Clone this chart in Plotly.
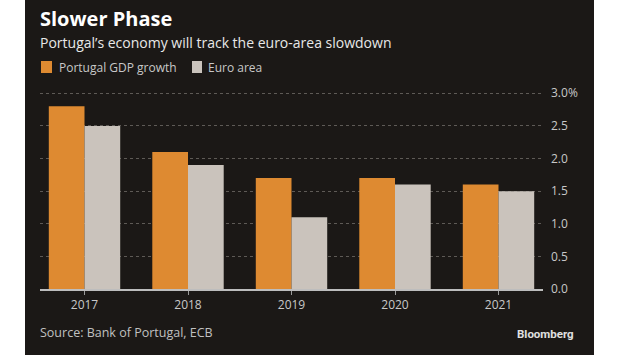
import plotly.graph_objects as go

years = ["2017", "2018", "2019", "2020", "2021"]
portugal = [2.8, 2.1, 1.7, 1.7, 1.6]
euro = [2.5, 1.9, 1.1, 1.6, 1.5]
series_names = ["Portugal GDP growth", "Euro area"]
ytick_vals = [0, 0.5, 1.0, 1.5, 2.0, 2.5, 3.0]
ytick_text = ["0.0", "0.5", "1.0", "1.5", "2.0", "2.5", "3.0%"]

W, H = 620, 355
L, R, T, B = 40, 77, 90, 66
pw = W - L - R
ph = H - T - B

def px_x(px):
    return (px - L) / pw

def px_y(py):
    return (H - B - py) / ph

BG = "#1b1816"
ORANGE = "#de8a31"
GREY = "#cac3bc"
FONT = "Open Sans"

fig = go.Figure()
fig.add_trace(go.Bar(x=years, y=portugal, name=series_names[0],
                     marker=dict(color=ORANGE, line=dict(width=0))))
fig.add_trace(go.Bar(x=years, y=euro, name=series_names[1],
                     marker=dict(color=GREY, line=dict(width=0))))

shapes = [dict(type="rect", xref="paper", yref="paper",
               x0=px_x(25), x1=px_x(594), y0=-1, y1=2,
               fillcolor=BG, line=dict(width=0), layer="below")]
# legend swatches
for (x0, x1), col in [((41, 52), ORANGE), ((192, 202), GREY)]:
    shapes.append(dict(type="rect", xref="paper", yref="paper",
                       x0=px_x(x0), x1=px_x(x1), y0=px_y(73), y1=px_y(61),
                       fillcolor=col, line=dict(width=0), layer="above"))

annotations = [
    dict(text="<b>Slower Phase</b>", xref="paper", yref="paper", x=px_x(38), y=px_y(18),
         xanchor="left", yanchor="middle", showarrow=False,
         font=dict(size=20, color="white", family=FONT)),
    dict(text="Portugal’s economy will track the euro-area slowdown", xref="paper", yref="paper",
         x=px_x(38), y=px_y(43), xanchor="left", yanchor="middle", showarrow=False,
         font=dict(size=14, color="#e8e8e8", family=FONT)),
    dict(text=series_names[0], xref="paper", yref="paper", x=px_x(57), y=px_y(67),
         xanchor="left", yanchor="middle", showarrow=False,
         font=dict(size=12, color="#c8c8c8", family=FONT)),
    dict(text=series_names[1], xref="paper", yref="paper", x=px_x(206), y=px_y(67),
         xanchor="left", yanchor="middle", showarrow=False,
         font=dict(size=12, color="#c8c8c8", family=FONT)),
    dict(text="Source: Bank of Portugal, ECB", xref="paper", yref="paper",
         x=px_x(38), y=px_y(332), xanchor="left", yanchor="middle", showarrow=False,
         font=dict(size=12.5, color="#c0c0c0", family=FONT)),
    dict(text="<b>Bloomberg</b>", xref="paper", yref="paper",
         x=px_x(515), y=px_y(334), xanchor="left", yanchor="middle", showarrow=False,
         font=dict(size=11.5, color="#e0e0e0", family="Roboto")),
]

fig.update_layout(
    width=W, height=H,
    margin=dict(l=L, r=R, t=T, b=B, pad=0),
    paper_bgcolor="white",
    plot_bgcolor="rgba(0,0,0,0)",
    barmode="group", bargap=0.31, bargroupgap=0,
    font=dict(family=FONT, color="#c8c8c8", size=12),
    showlegend=False,
    xaxis=dict(type="category", range=[-0.43, 4.43], showgrid=False,
               showline=True, linecolor="#bdbdbd", linewidth=1.5,
               ticks="outside", ticklen=4, tickcolor="#9a9a9a",
               tickfont=dict(size=12, color="#c8c8c8", family=FONT)),
    yaxis=dict(side="right", range=[0, 3.05], tickvals=ytick_vals, ticktext=ytick_text,
               showgrid=True, gridcolor="#5e5a56", griddash="dot", gridwidth=1,
               zeroline=False, ticks="", ticklabelstandoff=7,
               tickfont=dict(size=12, color="#c8c8c8", family=FONT)),
    shapes=shapes,
    annotations=annotations,
)

fig.write_html("out.html", config={"displayModeBar": False},
               post_script="document.body.style.margin='0';")
